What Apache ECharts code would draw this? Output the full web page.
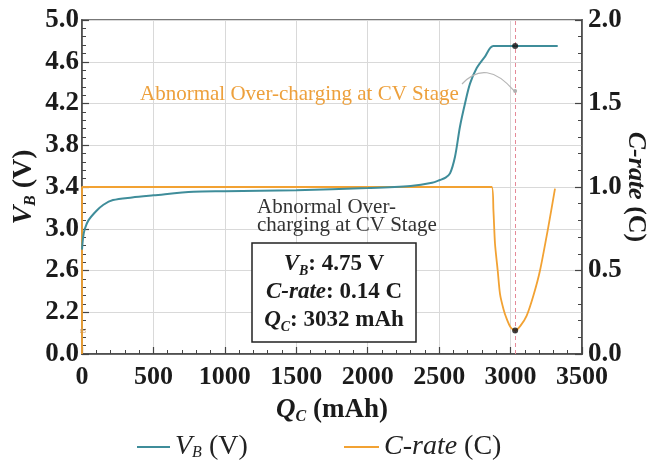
<!DOCTYPE html>
<html>
<head>
<meta charset="utf-8">
<script src="https://cdn.jsdelivr.net/npm/echarts@6/dist/echarts.min.js"></script>
<style>html,body{margin:0;padding:0;background:#fff}#c{width:657px;height:464px}</style>
</head>
<body>
<div id="c"></div>
<script>
// ---- data ----
const qVB = [0, 8, 20, 45, 100, 150, 217, 350, 500, 780, 1000, 1500, 2000, 2300, 2450, 2506, 2545, 2576, 2611, 2646, 2681, 2716, 2763, 2821, 2879, 3330];
const vB  = [2.80, 2.92, 3.00, 3.08, 3.17, 3.23, 3.275, 3.30, 3.32, 3.355, 3.36, 3.37, 3.39, 3.41, 3.44, 3.467, 3.49, 3.53, 3.69, 3.98, 4.20, 4.39, 4.54, 4.65, 4.75, 4.75];
const qC  = [0, 0, 2868, 2880, 2891, 2910, 2926, 2950, 2973, 3000, 3032, 3070, 3113, 3160, 3206, 3264, 3311];
const cRate = [0, 1.0, 1.0, 0.86, 0.66, 0.50, 0.36, 0.27, 0.21, 0.16, 0.14, 0.17, 0.23, 0.35, 0.50, 0.76, 0.99];
const markQ = 3032, markV = 4.75, markC = 0.14;
const vbBreakBase = 1.8;   // broken left axis: bottom tick labelled 0.0
const vbTicks = ['0.0', '2.2', '2.6', '3.0', '3.4', '3.8', '4.2', '4.6', '5.0'];

const SERIF = '"Liberation Serif","DejaVu Serif",serif';
const TEAL = '#3f8d9a', ORANGE = '#f2a233';

const chart = echarts.init(document.getElementById('c'), null, {renderer: 'canvas'});
const vbData = qVB.map((q, i) => [q, vB[i] - vbBreakBase]);
const cData = qC.map((q, i) => [q, cRate[i]]);

const tickLabel = {fontFamily: SERIF, fontWeight: 'bold', fontSize: 26, color: '#1b1b1b'};
const axisLine = {show: true, lineStyle: {color: '#444', width: 1.5}};
const axisTick = {show: true, inside: true, length: 7, lineStyle: {color: '#444', width: 1.2}};
const minorTick = {show: true, splitNumber: 5, length: 4, lineStyle: {color: '#444', width: 1}};

chart.setOption({
  animation: false,
  backgroundColor: '#fff',
  grid: {left: 82, right: 75, top: 20, bottom: 110, containLabel: false, outerBoundsMode: 'none',
    show: true, borderColor: '#777', borderWidth: 2, backgroundColor: 'transparent'},
  xAxis: {
    type: 'value', min: 0, max: 3500, interval: 500,
    axisLine: axisLine, axisTick: axisTick, minorTick: minorTick,
    axisLabel: Object.assign({margin: 10, formatter: (v) => String(v)}, tickLabel),
    splitLine: {show: true, lineStyle: {color: '#d9d9d9', width: 1}},
    name: '{q|Q}{s|C}{n| (mAh)}', nameLocation: 'middle', nameGap: 41,
    nameTextStyle: {rich: {
      q: {fontFamily: SERIF, fontWeight: 'bold', fontStyle: 'italic', fontSize: 27, color: '#1b1b1b', lineHeight: 30},
      s: {fontFamily: SERIF, fontWeight: 'bold', fontStyle: 'italic', fontSize: 16, color: '#1b1b1b', lineHeight: 12, verticalAlign: 'bottom'},
      n: {fontFamily: SERIF, fontWeight: 'bold', fontSize: 27, color: '#1b1b1b', lineHeight: 30}
    }}
  },
  yAxis: [{
    type: 'value', min: 0, max: 5.0 - vbBreakBase, interval: 0.4,
    axisLine: axisLine, axisTick: axisTick, minorTick: minorTick,
    axisLabel: Object.assign({margin: 3, formatter: (v) => vbTicks[Math.round(v / 0.4)]}, tickLabel, {fontSize: 27}),
    splitLine: {show: true, lineStyle: {color: '#d9d9d9', width: 1}},
    name: '{v|V}{s|B}{n| (V)}', nameLocation: 'middle', nameGap: 43, nameRotate: 90, nameMoveOverlap: false,
    nameTextStyle: {rich: {
      v: {fontFamily: SERIF, fontWeight: 'bold', fontStyle: 'italic', fontSize: 28, color: '#1b1b1b', lineHeight: 30},
      s: {fontFamily: SERIF, fontWeight: 'bold', fontStyle: 'italic', fontSize: 16, color: '#1b1b1b', lineHeight: 12, verticalAlign: 'bottom'},
      n: {fontFamily: SERIF, fontWeight: 'bold', fontSize: 28, color: '#1b1b1b', lineHeight: 30}
    }}
  }, {
    type: 'value', min: 0, max: 2.0, interval: 0.5, position: 'right',
    axisLine: axisLine, axisTick: axisTick, minorTick: minorTick,
    axisLabel: Object.assign({margin: 6, formatter: (v) => v.toFixed(1)}, tickLabel, {fontSize: 27}),
    splitLine: {show: false},
    name: '{c|C-rate}{n| (C)}', nameLocation: 'middle', nameGap: 41, nameRotate: -90, nameMoveOverlap: false,
    nameTextStyle: {rich: {
      c: {fontFamily: SERIF, fontWeight: 'bold', fontStyle: 'italic', fontSize: 26, color: '#1b1b1b'},
      n: {fontFamily: SERIF, fontWeight: 'bold', fontSize: 26, color: '#1b1b1b'}
    }}
  }],
  legend: [{
    data: ['VB'], left: 137, top: 433, padding: 0, icon: 'rect', itemWidth: 33, itemHeight: 2,
    formatter: () => '{v|V}{s|B}{n| (V)}',
    textStyle: {rich: {
      v: {fontFamily: SERIF, fontStyle: 'italic', fontSize: 28, color: '#222', lineHeight: 28},
      s: {fontFamily: SERIF, fontStyle: 'italic', fontSize: 16, color: '#222', lineHeight: 10, verticalAlign: 'bottom'},
      n: {fontFamily: SERIF, fontSize: 28, color: '#222', lineHeight: 28}
    }}
  }, {
    data: ['Crate'], left: 344, top: 433, padding: 0, icon: 'rect', itemWidth: 35, itemHeight: 2,
    formatter: () => '{c|C-rate}{n| (C)}',
    textStyle: {rich: {
      c: {fontFamily: SERIF, fontStyle: 'italic', fontSize: 28, color: '#222', lineHeight: 28},
      n: {fontFamily: SERIF, fontSize: 28, color: '#222', lineHeight: 28}
    }}
  }],
  series: [{
    name: 'VB', type: 'line', yAxisIndex: 0, data: vbData, showSymbol: false, smooth: 0.3,
    lineStyle: {color: TEAL, width: 2}, itemStyle: {color: TEAL}, z: 3,
    markLine: {silent: true, symbol: 'none', label: {show: false},
      lineStyle: {type: [4, 3], color: '#e58a98', width: 1}, data: [{xAxis: markQ}]}
  }, {
    name: 'Crate', type: 'line', yAxisIndex: 1, data: cData, showSymbol: false, smooth: 0.25,
    lineStyle: {color: ORANGE, width: 1.8}, itemStyle: {color: ORANGE}, z: 2
  }, {
    name: 'dotV', type: 'scatter', yAxisIndex: 0, data: [[markQ, markV - vbBreakBase]],
    symbolSize: 6, itemStyle: {color: '#111'}, z: 5
  }, {
    name: 'dotC', type: 'scatter', yAxisIndex: 1, data: [[markQ, markC]],
    symbolSize: 6, itemStyle: {color: '#111'}, z: 5
  }]
});

// ---- annotations ----
const pMark = chart.convertToPixel({xAxisIndex: 0, yAxisIndex: 0}, [markQ, 4.32 - vbBreakBase]);
const pBreak = chart.convertToPixel({xAxisIndex: 0, yAxisIndex: 0}, [0, 0.21]);
chart.setOption({
  graphic: [
    {type: 'text', left: 140, top: 84, z: 10,
      style: {text: 'Abnormal Over-charging at CV Stage', fontFamily: SERIF, fontSize: 21, fill: '#eda03c'}},
    {type: 'bezierCurve', z: 10,
      shape: {x1: 462, y1: 84, cpx1: 486, cpy1: 58, x2: pMark[0] - 1, y2: pMark[1]},
      style: {stroke: '#b5b5b5', lineWidth: 1.2, fill: null}},
    {type: 'circle', z: 10, shape: {cx: pMark[0], cy: pMark[1], r: 2}, style: {fill: '#b0b0b0'}},
    {type: 'text', left: 257, top: 197, z: 10,
      style: {text: 'Abnormal Over-\ncharging at CV Stage', fontFamily: SERIF, fontSize: 21, lineHeight: 18, fill: '#333'}},
    {type: 'rect', z: 10, shape: {x: 252, y: 243, width: 164, height: 99},
      style: {fill: '#fff', stroke: '#222', lineWidth: 1.5}},
    {type: 'text', z: 11, x: 334, y: 292,
      style: {
        text: '{i|V}{s|B}{b|: 4.75 V}\n{i|C-rate}{b|: 0.14 C}\n{i|Q}{s|C}{b|: 3032 mAh}',
        align: 'center', verticalAlign: 'middle',
        rich: {
          i: {fontFamily: SERIF, fontWeight: 'bold', fontStyle: 'italic', fontSize: 23, fill: '#1b1b1b', lineHeight: 28},
          s: {fontFamily: SERIF, fontWeight: 'bold', fontStyle: 'italic', fontSize: 14, fill: '#1b1b1b', lineHeight: 14, verticalAlign: 'bottom'},
          b: {fontFamily: SERIF, fontWeight: 'bold', fontSize: 23, fill: '#1b1b1b', lineHeight: 28}
        }
      }},
    {type: 'text', z: 10, x: pBreak[0] + 1, y: pBreak[1],
      style: {text: '≈', fontFamily: SERIF, fontSize: 12, fill: '#c49a6c', align: 'center', verticalAlign: 'middle'}}
  ]
});
</script>
</body>
</html>
